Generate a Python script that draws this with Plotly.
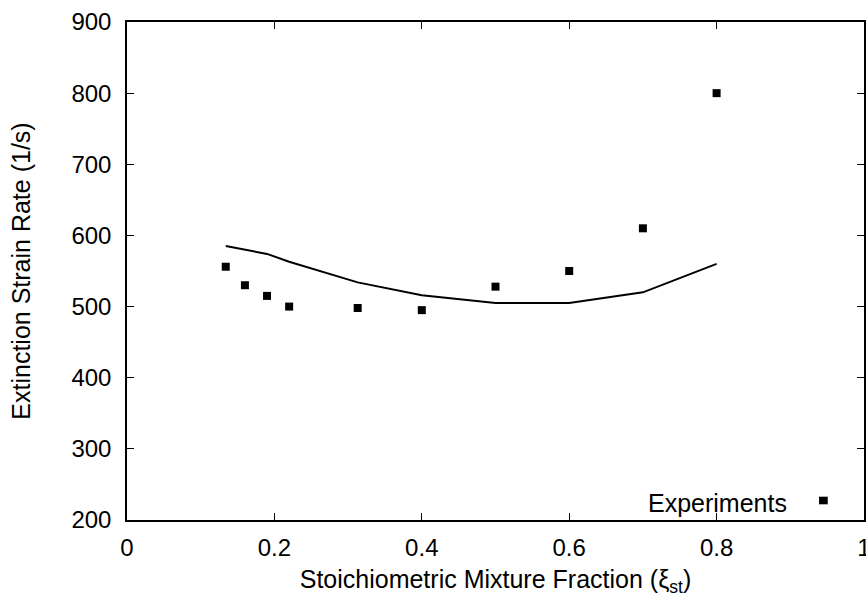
import plotly.graph_objects as go

# Experimental data
exp_x = [0.134, 0.16, 0.19, 0.22, 0.313, 0.4, 0.5, 0.6, 0.7, 0.8]
exp_y = [556, 530, 515, 500, 498, 495, 528, 550, 610, 800]

# Model line
model_x = [0.134, 0.19, 0.22, 0.313, 0.4, 0.5, 0.6, 0.7, 0.8]
model_y = [585, 574, 563, 534, 516, 505, 505, 520, 560]

x_ticks = [0, 0.2, 0.4, 0.6, 0.8, 1]
x_labels = ["0", "0.2", "0.4", "0.6", "0.8", "1"]
y_ticks = [200, 300, 400, 500, 600, 700, 800, 900]

FONT = "Liberation Sans, Arial, Helvetica, sans-serif"

fig = go.Figure()
fig.add_trace(go.Scatter(x=model_x, y=model_y, mode="lines",
                         line=dict(color="black", width=2), showlegend=False))
fig.add_trace(go.Scatter(x=exp_x, y=exp_y, mode="markers",
                         marker=dict(symbol="square", size=8, color="black"),
                         showlegend=False, name="Experiments"))

axis_common = dict(showgrid=False, zeroline=False, showline=True, linecolor="black",
                   linewidth=1.5, mirror="ticks", ticks="inside", ticklen=7,
                   tickcolor="black", tickwidth=1, automargin=False,
                   tickfont=dict(family=FONT, size=24, color="black"))

fig.update_xaxes(range=[0, 1], tickvals=x_ticks, ticktext=x_labels,
                 ticklabeloverflow="allow", ticklabelstandoff=5,
                 title=dict(text="Stoichiometric Mixture Fraction (ξ<sub>st</sub>)",
                            font=dict(family=FONT, size=25, color="black"), standoff=15),
                 **axis_common)
fig.update_yaxes(range=[200, 900], tickvals=y_ticks, ticklabelstandoff=9,
                 title=dict(text="Extinction Strain Rate (1/s)",
                            font=dict(family=FONT, size=25, color="black"), standoff=34),
                 **axis_common)

# legend (gnuplot style: text then key)
fig.add_annotation(text="Experiments", xref="paper", yref="paper", x=0.898, y=0.034,
                   xanchor="right", yanchor="middle", showarrow=False,
                   font=dict(family=FONT, size=25, color="black"))
fig.add_shape(type="rect", xref="paper", yref="paper",
              x0=0.939, x1=0.9508, y0=0.0315, y1=0.0468,
              fillcolor="black", line=dict(width=0))

fig.update_layout(width=866, height=597, margin=dict(l=127, r=2, t=22, b=77),
                  paper_bgcolor="white", plot_bgcolor="white",
                  font=dict(family=FONT, color="black"))

fig.write_html("out.html", config={"displayModeBar": False},
               post_script="document.body.style.margin='0';document.body.style.overflow='hidden';")
